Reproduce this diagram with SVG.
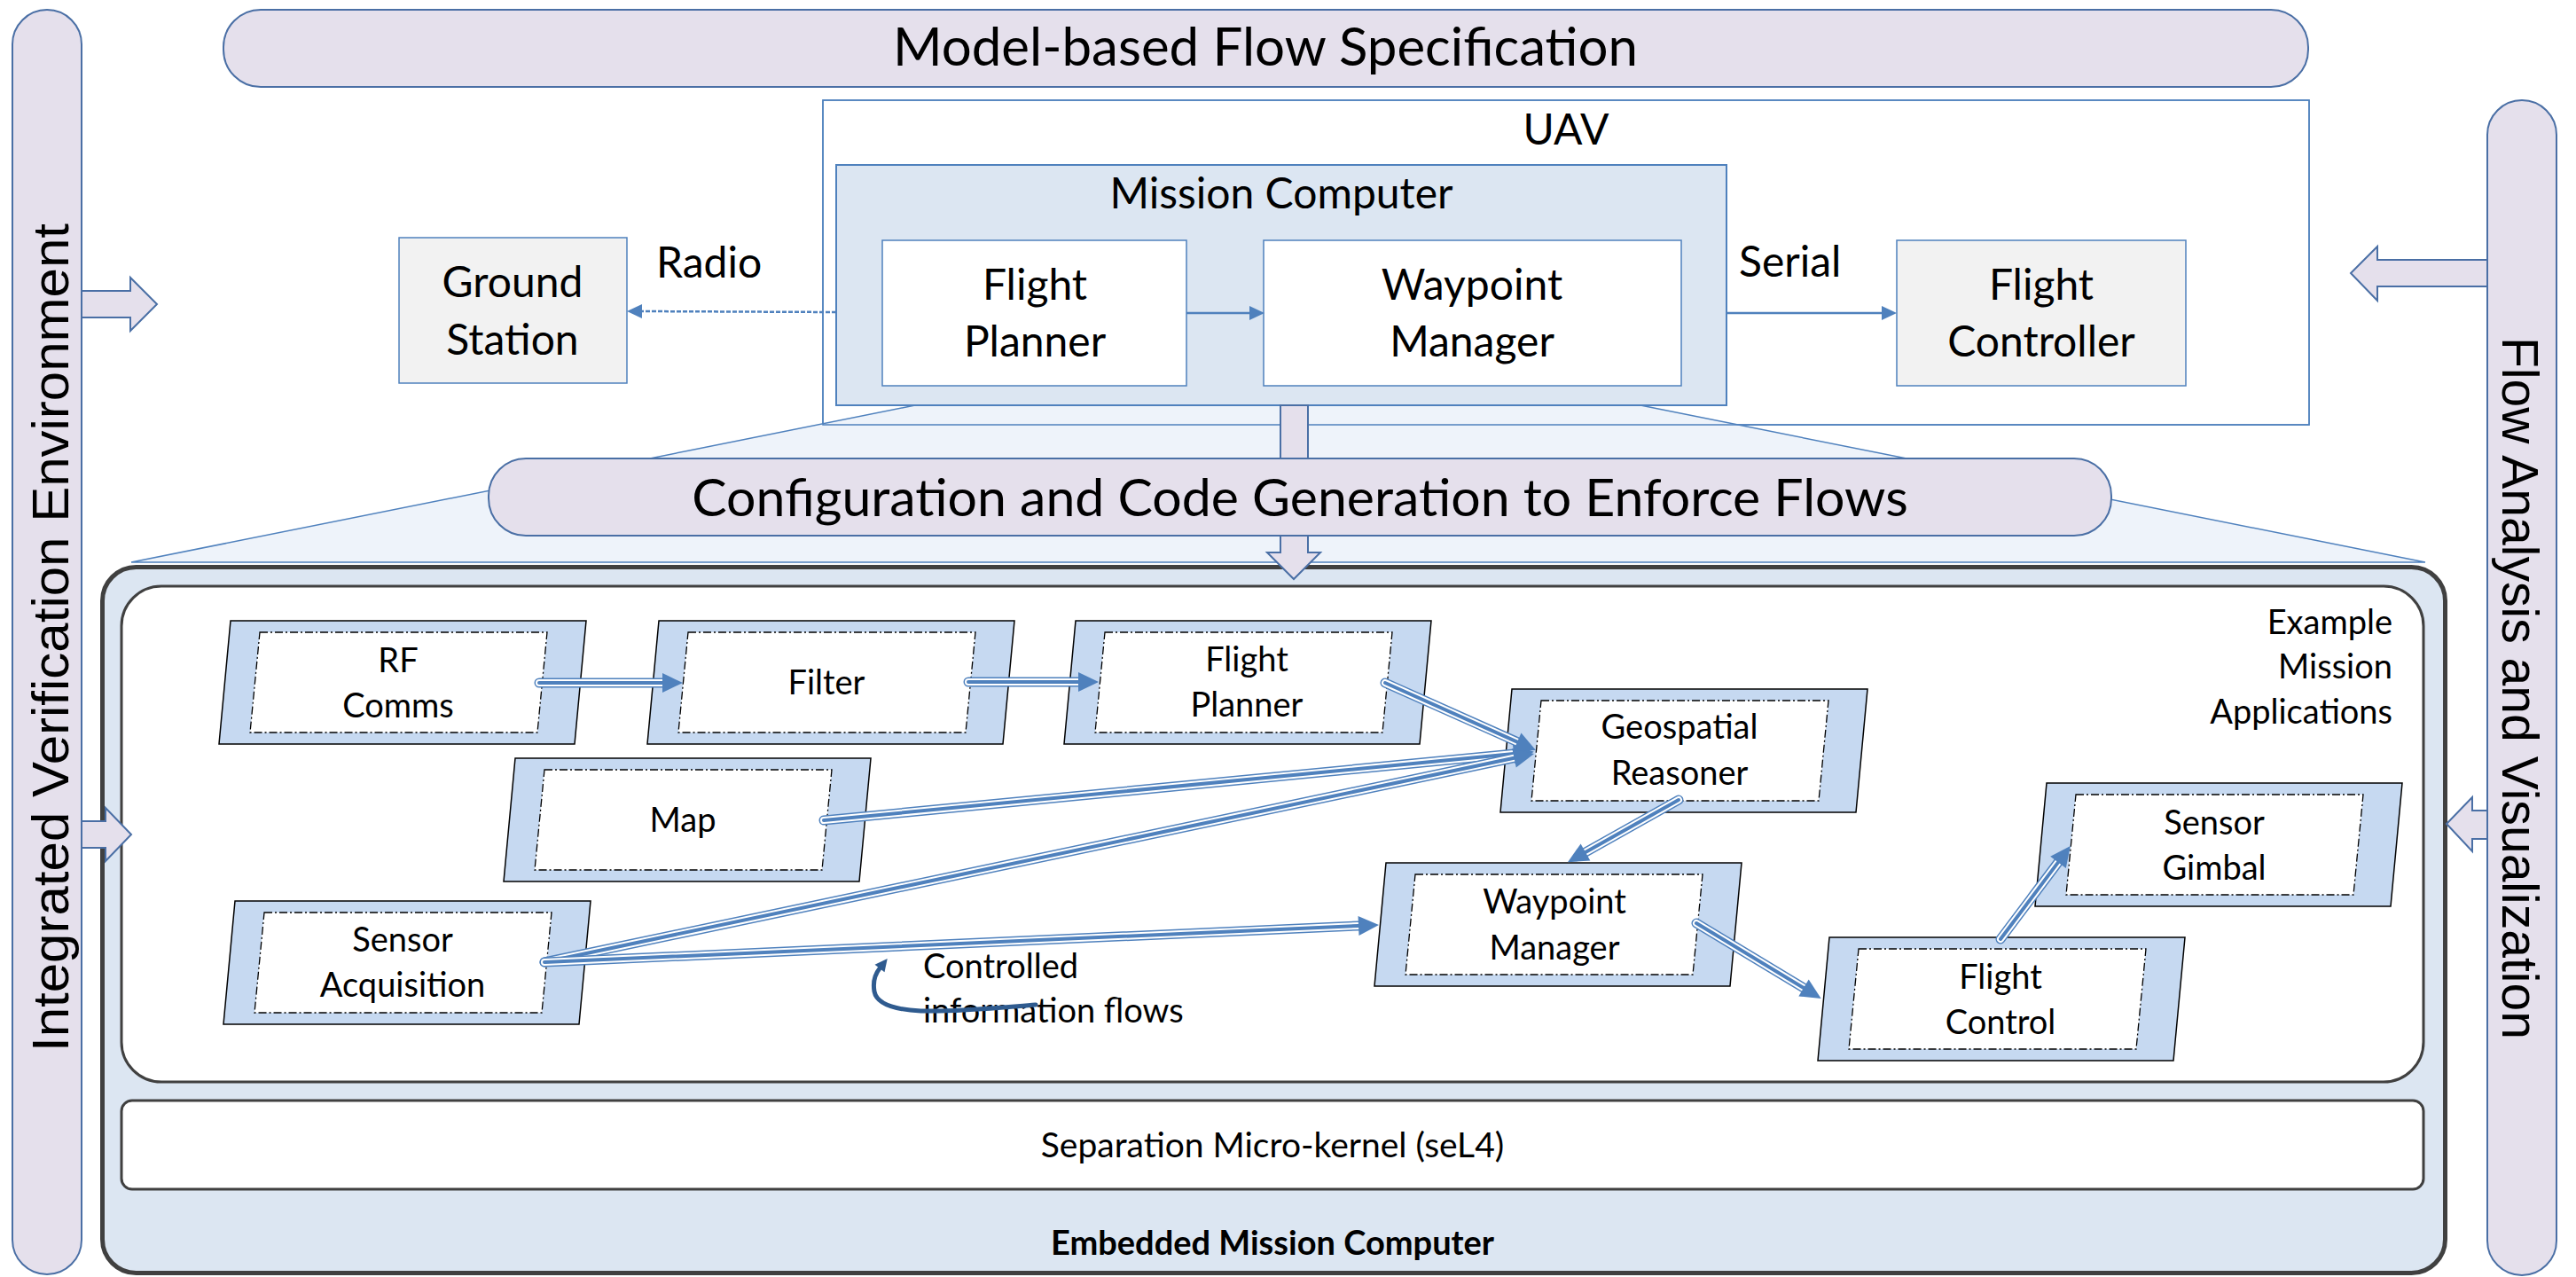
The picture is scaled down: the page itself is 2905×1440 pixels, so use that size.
<svg xmlns="http://www.w3.org/2000/svg" width="2905" height="1440" viewBox="0 0 2905 1440">
<style>
.pill{fill:#e5e0ec;stroke:#4a6fa5;stroke-width:2}
.t{font-family:Lato,'Liberation Sans',sans-serif;fill:#000}
.side{font-family:'Liberation Sans',Arial,sans-serif;fill:#000;font-size:57px}
.outer{fill:#c6d9f1;stroke:#000;stroke-width:1.5}
.inner{fill:#fff;stroke:#000;stroke-width:1.3;stroke-dasharray:9 3 2 3}
.fa{fill:none;stroke:#4f81bd;stroke-width:11;stroke-linecap:round}
.fb{fill:none;stroke:#fff;stroke-width:8;stroke-linecap:round}
.fc{fill:none;stroke:#4f81bd;stroke-width:4;stroke-linecap:round;marker-end:url(#head)}
.ln{fill:none;stroke:#4f81bd;stroke-width:2.5}
.lbl{font-size:38px}
.big{font-size:48px}
</style>
<defs>
<marker id="head" markerUnits="userSpaceOnUse" viewBox="0 -11 23 22" markerWidth="23" markerHeight="22" refX="0" refY="0" orient="auto" overflow="visible"><path d="M0,-11 L23,0 L0,11 Z" fill="#4f81bd"/></marker>
<marker id="sh" markerUnits="userSpaceOnUse" viewBox="0 -8 17 16" markerWidth="17" markerHeight="16" refX="0" refY="0" orient="auto" overflow="visible"><path d="M0,-8 L17,0 L0,8 Z" fill="#4f81bd"/></marker>
<marker id="ch" markerUnits="userSpaceOnUse" viewBox="0 -7 14 14" markerWidth="14" markerHeight="14" refX="0" refY="0" orient="auto" overflow="visible"><path d="M0,-7 L14,0 L0,7 Z" fill="#2f5b8f"/></marker>
<g id="shape"><polygon class="outer" points="13,0 414,0 401,139 0,139"/><polygon class="inner" points="46,13 370,13 359,126 35,126"/></g>
</defs>

<g id="ive-bar"><rect class="pill" x="14" y="11" width="78" height="1426" rx="39"/>
<text class="side" transform="translate(77,719) rotate(-90)" text-anchor="middle" textLength="934" lengthAdjust="spacingAndGlyphs">Integrated Verification Environment</text></g>
<g id="fav-bar"><rect class="pill" x="2805" y="113" width="78" height="1325" rx="39"/>
<text class="side" transform="translate(2822,776) rotate(90)" text-anchor="middle" textLength="792" lengthAdjust="spacingAndGlyphs">Flow Analysis and Visualization</text></g>
<g id="spec-bar"><rect class="pill" x="252" y="11" width="2351" height="87" rx="42"/>
<text class="t" x="1427" y="74" font-size="60" text-anchor="middle">Model-based Flow Specification</text></g>

<g id="uav"><rect x="928" y="113" width="1676" height="366" fill="#fff" stroke="#4f81bd" stroke-width="1.5"/></g>
<g id="projection"><polygon points="1032,457 1850,457 2735,634 148,634" fill="#eef3fa"/>
<path d="M1032,457 L148,634 M1850,457 L2735,634 M148,634 L2735,634" fill="none" stroke="#4f81bd" stroke-width="1.5"/></g>
<rect x="928" y="113" width="1676" height="366" fill="none" stroke="#4f81bd" stroke-width="1.5"/>
<text class="t big" x="1766" y="163" text-anchor="middle">UAV</text>

<g id="mission-computer"><rect x="943" y="186" width="1004" height="271" fill="#dce6f2" stroke="#4f81bd" stroke-width="2"/>
<text class="t big" x="1445" y="235" text-anchor="middle">Mission Computer</text></g>
<g id="mc-flight-planner"><rect x="995" y="271" width="343" height="164" fill="#fff" stroke="#4f81bd" stroke-width="1.5"/>
<text class="t big" text-anchor="middle"><tspan x="1167" y="338">Flight</tspan><tspan x="1167" y="402">Planner</tspan></text></g>
<g id="mc-waypoint-manager"><rect x="1425" y="271" width="471" height="164" fill="#fff" stroke="#4f81bd" stroke-width="1.5"/>
<text class="t big" text-anchor="middle"><tspan x="1660" y="338">Waypoint</tspan><tspan x="1660" y="402">Manager</tspan></text></g>
<g id="ground-station"><rect x="450" y="268" width="257" height="164" fill="#f2f2f2" stroke="#4f81bd" stroke-width="1.5"/>
<text class="t big" text-anchor="middle"><tspan x="578" y="335">Ground</tspan><tspan x="578" y="400">Station</tspan></text></g>
<g id="flight-controller"><rect x="2139" y="271" width="326" height="164" fill="#f2f2f2" stroke="#4f81bd" stroke-width="1.5"/>
<text class="t big" text-anchor="middle"><tspan x="2302" y="338">Flight</tspan><tspan x="2302" y="402">Controller</tspan></text></g>
<text class="t big" x="740" y="313">Radio</text>
<text class="t big" x="1961" y="312">Serial</text>

<g id="embedded"><rect x="115.5" y="639.5" width="2642" height="796" rx="38" fill="#dce6f2" stroke="#404040" stroke-width="5"/>
<text class="t" x="1435" y="1415" font-size="38" font-weight="bold" text-anchor="middle">Embedded Mission Computer</text></g>
<g id="apps"><rect x="137" y="661" width="2596" height="559" rx="45" fill="#fff" stroke="#404040" stroke-width="3"/>
<text class="t lbl" text-anchor="end"><tspan x="2698" y="715">Example</tspan><tspan x="2698" y="765">Mission</tspan><tspan x="2698" y="816">Applications</tspan></text></g>
<g id="sel4"><rect x="137" y="1241" width="2596" height="100" rx="12" fill="#fff" stroke="#404040" stroke-width="3"/>
<text class="t" x="1435" y="1305" font-size="39" text-anchor="middle">Separation Micro-kernel (seL4)</text></g>

<g id="down-arrow"><polygon class="pill" stroke-width="1.5" points="1444,457 1475,457 1475,623 1489,623 1459,653 1429,623 1444,623"/></g>
<g id="codegen-bar"><rect class="pill" x="551" y="517" width="1830" height="87" rx="42"/>
<text class="t" x="1466" y="582" font-size="59" text-anchor="middle">Configuration and Code Generation to Enforce Flows</text></g>

<g id="side-arrows" class="pill" stroke-width="1.5">
<polygon points="92,328 147,328 147,313 177,343 147,373 147,358 92,358"/>
<polygon points="92,926 119,926 119,911 148,941 119,971 119,956 92,956"/>
<polygon points="2805,293 2681,293 2681,278 2651,308 2681,339 2681,323 2805,323"/>
<polygon points="2805,914 2788,914 2788,899 2759,929 2788,960 2788,946 2805,946"/>
</g>

<g id="n-rf"><use href="#shape" x="247" y="700"/><text class="t lbl" text-anchor="middle"><tspan x="449" y="758">RF</tspan><tspan x="449" y="809">Comms</tspan></text></g>
<g id="n-filter"><use href="#shape" x="730" y="700"/><text class="t lbl" x="932" y="783" text-anchor="middle">Filter</text></g>
<g id="n-planner"><use href="#shape" x="1200" y="700"/><text class="t lbl" text-anchor="middle"><tspan x="1406" y="757">Flight</tspan><tspan x="1406" y="808">Planner</tspan></text></g>
<g id="n-map"><use href="#shape" x="568" y="855"/><text class="t lbl" x="770" y="938" text-anchor="middle">Map</text></g>
<g id="n-geo"><use href="#shape" x="1692" y="777"/><text class="t lbl" text-anchor="middle"><tspan x="1894" y="833">Geospatial</tspan><tspan x="1894" y="885">Reasoner</tspan></text></g>
<g id="n-sensor"><use href="#shape" x="252" y="1016"/><text class="t lbl" text-anchor="middle"><tspan x="454" y="1073">Sensor</tspan><tspan x="454" y="1124">Acquisition</tspan></text></g>
<g id="n-waypoint"><use href="#shape" x="1550" y="973"/><text class="t lbl" text-anchor="middle"><tspan x="1753" y="1030">Waypoint</tspan><tspan x="1753" y="1082">Manager</tspan></text></g>
<g id="n-control"><use href="#shape" x="2050" y="1057"/><text class="t lbl" text-anchor="middle"><tspan x="2256" y="1115">Flight</tspan><tspan x="2256" y="1166">Control</tspan></text></g>
<g id="n-gimbal"><use href="#shape" x="2295" y="883"/><text class="t lbl" text-anchor="middle"><tspan x="2497" y="941">Sensor</tspan><tspan x="2497" y="992">Gimbal</tspan></text></g>

<text class="t lbl"><tspan x="1041" y="1103">Controlled</tspan><tspan x="1041" y="1153">information flows</tspan></text>

<g id="connectors">
<path class="ln" d="M943,352 L724,351" stroke-dasharray="5 2" marker-end="url(#sh)"/>
<path class="ln" d="M1338,353 L1409,353" marker-end="url(#sh)"/>
<path class="ln" d="M1947,353 L2122,353" marker-end="url(#sh)"/>
<g id="flow-rf-filter"><path class="fa" d="M608,770 L747,770"/><path class="fb" d="M608,770 L747,770"/><path class="fc" d="M608,770 L747,770"/></g>
<g id="flow-filter-planner"><path class="fa" d="M1092,769 L1216,769"/><path class="fb" d="M1092,769 L1216,769"/><path class="fc" d="M1092,769 L1216,769"/></g>
<g id="flow-map-geo"><path class="fa" d="M929,925 L1707,850"/><path class="fb" d="M929,925 L1707,850"/><path class="fc" d="M929,925 L1707,850"/></g>
<g id="flow-sensor-geo"><path class="fa" d="M614,1085 L1707.5,854.7"/><path class="fb" d="M614,1085 L1707.5,854.7"/><path class="fc" d="M614,1085 L1707.5,854.7"/></g>
<g id="flow-planner-geo"><path class="fa" d="M1562,770 L1711,836.6"/><path class="fb" d="M1562,770 L1711,836.6"/><path class="fc" d="M1562,770 L1711,836.6"/></g>
<g id="flow-sensor-wp"><path class="fa" d="M614,1085 L1532,1044"/><path class="fb" d="M614,1085 L1532,1044"/><path class="fc" d="M614,1085 L1532,1044"/></g>
<g id="flow-geo-wp"><path class="fa" d="M1893,902 L1788,961"/><path class="fb" d="M1893,902 L1788,961"/><path class="fc" d="M1893,902 L1788,961"/></g>
<g id="flow-wp-control"><path class="fa" d="M1913,1041 L2034,1114"/><path class="fb" d="M1913,1041 L2034,1114"/><path class="fc" d="M1913,1041 L2034,1114"/></g>
<g id="flow-control-gimbal"><path class="fa" d="M2256,1059 L2321,972.4"/><path class="fb" d="M2256,1059 L2321,972.4"/><path class="fc" d="M2256,1059 L2321,972.4"/></g>
<path d="M1168,1133 C1080,1140 992,1150 986,1118 C984,1106 988,1097 992,1092" fill="none" stroke="#2f5b8f" stroke-width="5" stroke-linecap="round" marker-end="url(#ch)"/>
</g>
</svg>
